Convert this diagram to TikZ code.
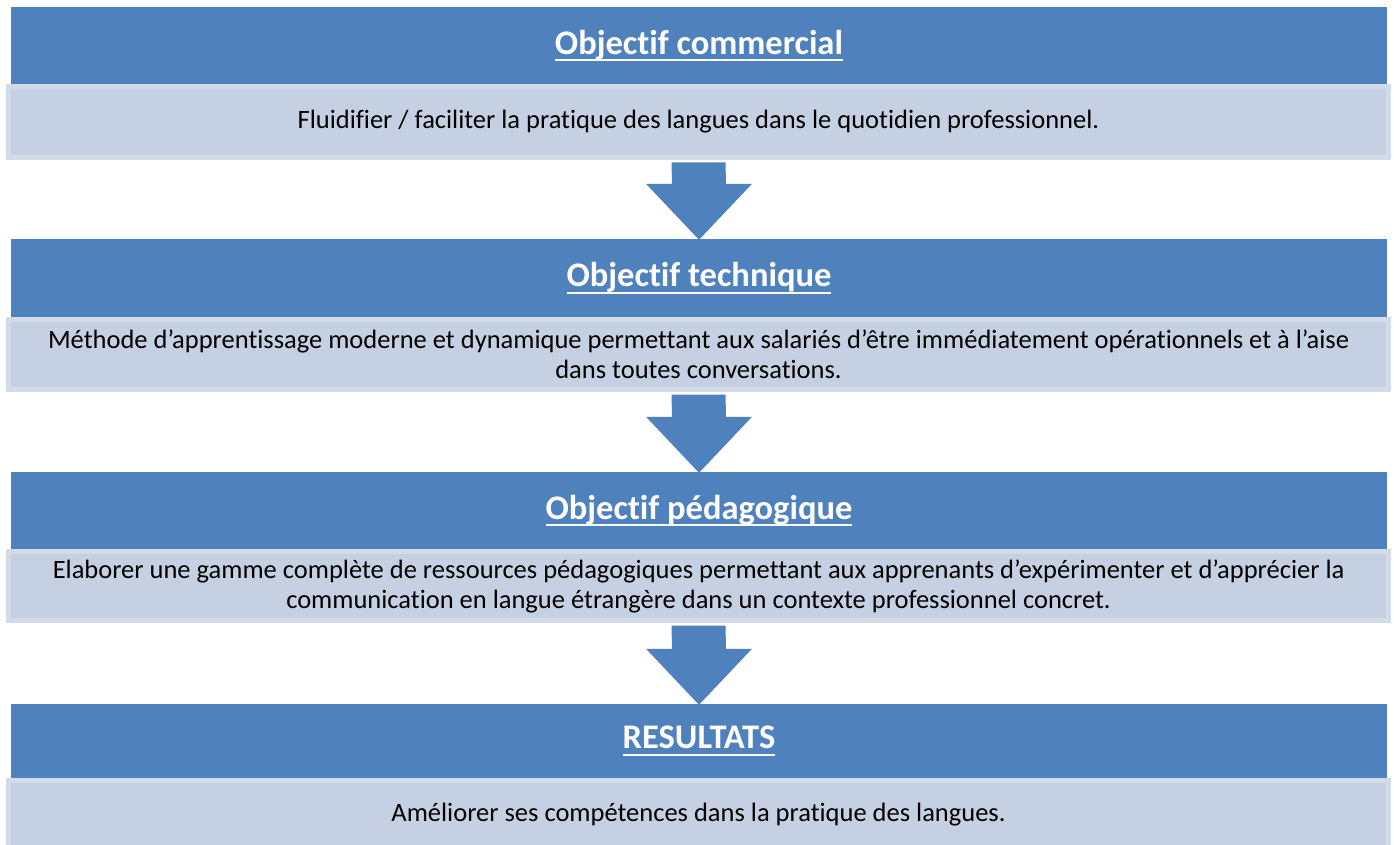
\documentclass[tikz,border=0pt]{standalone}
\usepackage{fontspec}
\setmainfont[Ligatures=NoCommon]{Carlito}
\usetikzlibrary{calc,positioning}

\definecolor{hdblue}{HTML}{4F81BD}
\definecolor{bodyfill}{HTML}{C5D0E3}
\definecolor{bodyedge}{HTML}{D3DAE8}

\newcommand{\titleul}[1]{\setbox0\hbox{#1}\rlap{\rule[-7pt]{\wd0}{2pt}}\box0}
\newcommand{\flowarrow}[2]{%
  \fill[hdblue] ($(#1.south)+(-27,2.5)$) -- ($(#2.north)+(-27,-55)$)
    -- ($(#2.north)+(-53,-55)$) -- ($(#2.north)+(0,1)$)
    -- ($(#2.north)+(53,-55)$) -- ($(#2.north)+(27,-55)$)
    -- ($(#1.south)+(27,2.5)$) -- cycle;}

\tikzset{
  head/.style={fill=hdblue, text=white, inner sep=0pt, minimum width=1376pt,
    font=\fontsize{34.5}{40}\selectfont\bfseries},
  bodybox/.style={fill=bodyfill, draw=bodyedge, line width=5pt, inner sep=0pt,
    minimum width=1380pt, align=center, font=\fontsize{26.5}{30}\selectfont}
}

\begin{document}
\begin{tikzpicture}[x=1pt,y=-1pt]
  \useasboundingbox (0,0) rectangle (1394,845);
  % light boxes
  \node[bodybox, minimum height=71pt] (l1) at (698.5,122)
    {Fluidifier / faciliter la pratique des langues dans le quotidien professionnel.};
  \node[bodybox, minimum height=70pt] (l2) at (698.5,354.5)
    {Méthode d’apprentissage moderne et dynamique permettant aux salariés d’être immédiatement opérationnels et à l’aise\\
     dans toutes conversations.};
  \node[bodybox, minimum height=69pt] (l3) at (698.5,586)
    {Elaborer une gamme complète de ressources pédagogiques permettant aux apprenants d’expérimenter et d’apprécier la\\
     communication en langue étrangère dans un contexte professionnel concret.};
  \node[bodybox, minimum height=69pt] (l4) at (698.5,815)
    {Améliorer ses compétences dans la pratique des langues.};
  % headers
  \node[head, minimum height=77pt] (h1) at (699,45.5) {\titleul{Objectif commercial}};
  \node[head, minimum height=78pt] (h2) at (699,278) {\titleul{Objectif technique}};
  \node[head, minimum height=77pt] (h3) at (699,510.5) {\titleul{Objectif pédagogique}};
  \node[head, minimum height=74pt] (h4) at (699,741) {\titleul{RESULTATS}};
  % arrows
  \flowarrow{l1}{h2}
  \flowarrow{l2}{h3}
  \flowarrow{l3}{h4}
\end{tikzpicture}
\end{document}
